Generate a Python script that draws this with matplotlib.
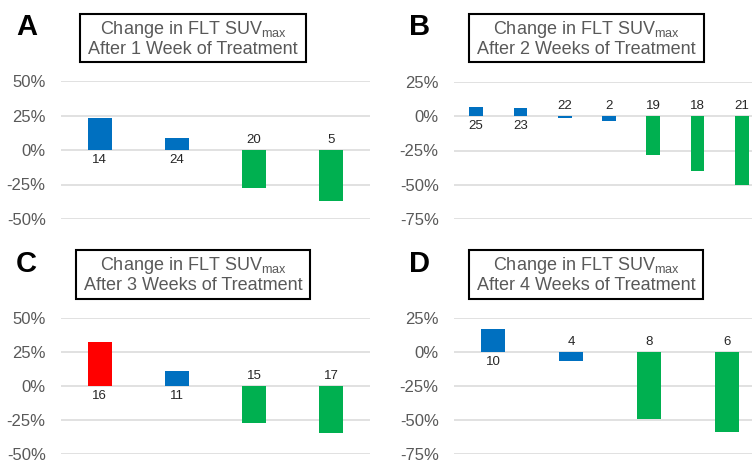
import matplotlib.pyplot as plt
from matplotlib.patches import Rectangle
from matplotlib.ticker import PercentFormatter

plt.rcParams['font.family'] = ['Liberation Sans', 'DejaVu Sans']
plt.rcParams['axes.unicode_minus'] = False
plt.rcParams['mathtext.default'] = 'regular'

BLUE = '#0070C0'
GREEN = '#00B050'
RED = '#FF0000'

# panel A - week 1
a_ids = ['14', '24', '20', '5']
a_vals = [0.23, 0.085, -0.275, -0.37]
a_cols = [BLUE, BLUE, GREEN, GREEN]

# panel B - week 2
b_ids = ['25', '23', '22', '2', '19', '18', '21']
b_vals = [0.068, 0.06, -0.015, -0.037, -0.285, -0.40, -0.50]
b_cols = [BLUE, BLUE, BLUE, BLUE, GREEN, GREEN, GREEN]

# panel C - week 3
c_ids = ['16', '11', '15', '17']
c_vals = [0.32, 0.108, -0.27, -0.345]
c_cols = [RED, BLUE, GREEN, GREEN]

# panel D - week 4
d_ids = ['10', '4', '8', '6']
d_vals = [0.172, -0.063, -0.49, -0.585]
d_cols = [BLUE, BLUE, GREEN, GREEN]

W, H = 752, 462
fig = plt.figure(figsize=(W / 100, H / 100), dpi=100)


def px_axes(left, top, width, height):
    return fig.add_axes([left / W, 1 - (top + height) / H, width / W, height / H])


def panel(ax, ids, vals, cols, yticks):
    x = range(len(vals))
    ax.bar(x, vals, width=0.31, color=cols, zorder=3)
    ax.set_xlim(-0.5, len(vals) - 0.5)
    ax.set_ylim(yticks[0], yticks[-1])
    ax.set_yticks(yticks)
    ax.yaxis.set_major_formatter(PercentFormatter(1.0, decimals=0))
    ax.grid(axis='y', color='#d9d9d9', linewidth=1.1, zorder=0)
    ax.set_xticks([])
    for s in ax.spines.values():
        s.set_visible(False)
    ax.tick_params(axis='y', length=0, pad=11, labelsize=12, labelcolor='#595959')
    for xi, v, lab in zip(x, vals, ids):
        if v >= 0:
            ax.annotate(lab, (xi, 0), xytext=(0, -3), textcoords='offset points',
                        ha='center', va='top', fontsize=9.5, color='#262626')
        else:
            ax.annotate(lab, (xi, 0), xytext=(0, 3), textcoords='offset points',
                        ha='center', va='bottom', fontsize=9.5, color='#262626')


def title_box(letter, lx, ly, bx, by, bw, bh, week):
    fig.text(lx / W, 1 - ly / H, letter, fontsize=21, fontweight='bold',
             ha='left', va='center', color='black')
    fig.patches.append(Rectangle((bx / W, 1 - (by + bh) / H), bw / W, bh / H,
                                 transform=fig.transFigure, fill=False,
                                 edgecolor='black', linewidth=1.5))
    cx = (bx + bw / 2) / W
    fig.text(cx, 1 - (by + 15) / H, 'Change in FLT SUV$_{max}$', fontsize=13,
             ha='center', va='center', color='#595959')
    fig.text(cx, 1 - (by + 35) / H, week, fontsize=13,
             ha='center', va='center', color='#595959')


axA = px_axes(61, 81, 309, 138)
panel(axA, a_ids, a_vals, a_cols, [-0.5, -0.25, 0, 0.25, 0.5])
axB = px_axes(454, 82, 310, 137)
panel(axB, b_ids, b_vals, b_cols, [-0.75, -0.5, -0.25, 0, 0.25])
axC = px_axes(61, 318, 309, 136)
panel(axC, c_ids, c_vals, c_cols, [-0.5, -0.25, 0, 0.25, 0.5])
axD = px_axes(454, 318, 312, 136)
panel(axD, d_ids, d_vals, d_cols, [-0.75, -0.5, -0.25, 0, 0.25])

title_box('A', 16, 27, 80, 14, 226, 48, 'After 1 Week of Treatment')
title_box('B', 409, 27, 469, 14, 235, 48, 'After 2 Weeks of Treatment')
title_box('C', 16, 264, 76, 250, 234, 49, 'After 3 Weeks of Treatment')
title_box('D', 409, 264, 469, 250, 234, 49, 'After 4 Weeks of Treatment')

fig.savefig('out.png', dpi=100)
